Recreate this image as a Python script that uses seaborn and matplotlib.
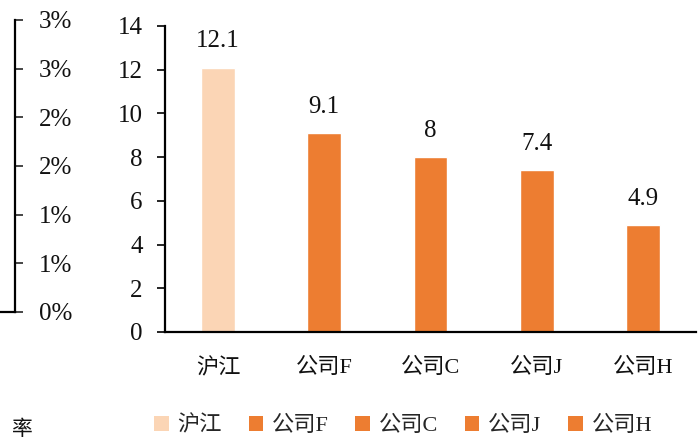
import matplotlib
matplotlib.use("Agg")
import matplotlib.pyplot as plt
from matplotlib.patches import Patch
import seaborn as sns
import pandas as pd

# Data
companies = ["沪江", "公司F", "公司C", "公司J", "公司H"]
values = [12.1, 9.1, 8.0, 7.4, 4.9]
value_labels = ["12.1", "9.1", "8", "7.4", "4.9"]
bar_colors = ["#FBD5B5", "#ED7D31", "#ED7D31", "#ED7D31", "#ED7D31"]
y_ticks = [0, 2, 4, 6, 8, 10, 12, 14]

# Neighbouring panel: percentage axis
pct_ticks = [0.0, 0.005, 0.010, 0.015, 0.020, 0.025, 0.030]
pct_labels = ["0%", "1%", "1%", "2%", "2%", "3%", "3%"]

sns.set_theme(style="white")
plt.rcParams["font.family"] = ["Liberation Serif", "Noto Sans CJK SC"]

W, H = 699, 441
fig = plt.figure(figsize=(W / 100, H / 100), dpi=100)

# Main bar panel
ax = fig.add_axes([165 / W, (H - 332) / H, (696 - 165) / W, (332 - 26) / H])
df = pd.DataFrame({"company": companies, "value": values})
sns.barplot(data=df, x="company", y="value", hue="company",
            palette=bar_colors, width=0.32, legend=False, ax=ax,
            saturation=1)

for container, lab in zip(ax.containers, value_labels):
    ax.bar_label(container, labels=[lab], padding=11, fontsize=18,
                 color="#111111")

ax.set_xlim(-0.5, 4.5)
ax.set_ylim(0, 14)
ax.set_yticks(y_ticks)
ax.set_xlabel("")
ax.set_ylabel("")
for s in ["top", "right"]:
    ax.spines[s].set_visible(False)
for s in ["left", "bottom"]:
    ax.spines[s].set_color("black")
    ax.spines[s].set_linewidth(1.6)
ax.tick_params(axis="y", which="both", left=True, length=6, width=1.2,
               pad=10, labelsize=18, colors="black", direction="out")
ax.tick_params(axis="x", bottom=False, pad=13, labelsize=16,
               labelcolor="#111111")
for t in ax.get_yticklabels():
    t.set_color("#111111")

# Legend
handles = [Patch(facecolor=c, edgecolor="none", label=n)
           for c, n in zip(bar_colors, companies)]
fig.legend(handles=handles, loc="center", ncol=5,
           bbox_to_anchor=(403 / W, 1 - 426 / H), frameon=False,
           fontsize=16, handlelength=0.65, handleheight=0.65,
           handletextpad=0.4, columnspacing=1.2, borderpad=0)

# Neighbouring panel (right axis only)
ax2 = fig.add_axes([-60 / W, (H - 312) / H, 75 / W, (312 - 20) / H])
ax2.set_ylim(0, 0.03)
ax2.set_yticks(pct_ticks)
ax2.set_yticklabels(pct_labels)
ax2.yaxis.tick_right()
ax2.set_xticks([])
ax2.patch.set_alpha(0)
for s in ["top", "left"]:
    ax2.spines[s].set_visible(False)
for s in ["right", "bottom"]:
    ax2.spines[s].set_color("black")
    ax2.spines[s].set_linewidth(1.6)
ax2.tick_params(axis="y", right=True, left=False, length=6, width=1.2,
                pad=11, labelsize=18, labelcolor="#111111",
                direction="out")

fig.text(33 / W, 1 - 430 / H, "率", ha="right", va="center",
         fontsize=15, color="#111111")

fig.savefig("out.png", dpi=100)
